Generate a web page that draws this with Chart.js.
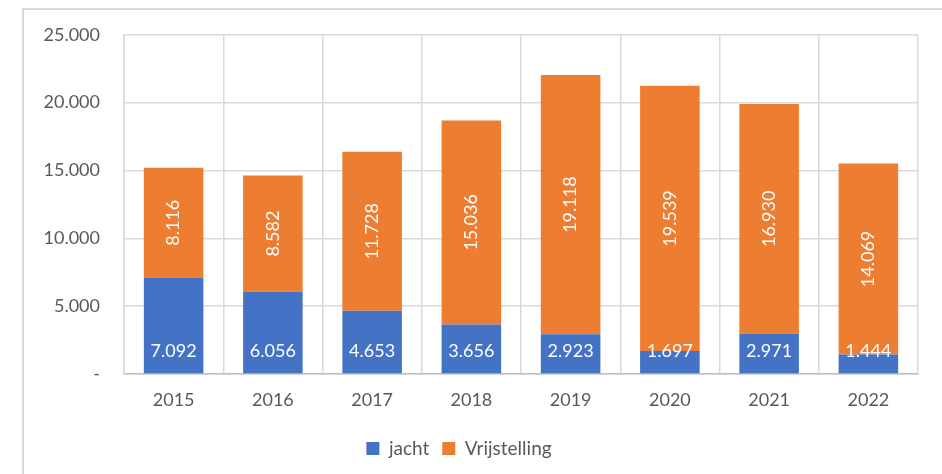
<!DOCTYPE html>
<html>
<head>
<meta charset="utf-8">
<script src="https://cdn.jsdelivr.net/npm/chart.js@4"></script>
<style>
  body { margin: 0; background: #fff; }
  #wrap { position: relative; width: 942px; height: 474px; overflow: hidden; }
  #frame { position: absolute; left: 22px; top: 8px; width: 940px; height: 480px; border: 2px solid #d9d9d9; box-sizing: border-box; }
  canvas { position: absolute; left: 0; top: 0; }
</style>
</head>
<body>
<div id="wrap">
  <div id="frame"></div>
  <canvas id="myChart" width="942" height="474"></canvas>
</div>
<script>
const years = ['2015', '2016', '2017', '2018', '2019', '2020', '2021', '2022'];
const jacht = [7092, 6056, 4653, 3656, 2923, 1697, 2971, 1444];
const vrijstelling = [8116, 8582, 11728, 15036, 19118, 19539, 16930, 14069];
const yTicks = [0, 5000, 10000, 15000, 20000, 25000];

// Dutch number format: 15000 -> 15.000
function fmt(v) {
    return String(v).replace(/\B(?=(\d{3})+(?!\d))/g, '.');
}

// draw the white value labels inside the bars
const barLabels = {
    id: 'barLabels',
    afterDatasetsDraw(chart) {
        const ctx = chart.ctx;
        ctx.save();
        ctx.fillStyle = '#ffffff';
        ctx.font = '18px Lato';
        chart.data.datasets.forEach((ds, i) => {
            const meta = chart.getDatasetMeta(i);
            meta.data.forEach((bar, j) => {
                const text = fmt(ds.data[j]);
                if (i === 0) {
                    ctx.textAlign = 'center';
                    ctx.textBaseline = 'middle';
                    ctx.fillText(text, bar.x, bar.base - 22);
                } else {
                    ctx.save();
                    ctx.translate(bar.x, (bar.y + bar.base) / 2);
                    ctx.rotate(-Math.PI / 2);
                    ctx.textAlign = 'center';
                    ctx.textBaseline = 'middle';
                    ctx.fillText(text, 0, 0);
                    ctx.restore();
                }
            });
        });
        ctx.restore();
    }
};

const ctx = document.getElementById('myChart').getContext('2d');
const myChart = new Chart(ctx, {
    type: 'bar',
    data: {
        labels: years,
        datasets: [{
            label: 'jacht',
            data: jacht,
            backgroundColor: '#4472C4',
            barPercentage: 0.6,
            categoryPercentage: 1
        }, {
            label: 'Vrijstelling',
            data: vrijstelling,
            backgroundColor: '#ED7D31',
            barPercentage: 0.6,
            categoryPercentage: 1
        }]
    },
    options: {
        responsive: false,
        animation: false,
        layout: { padding: { left: 0, right: 24, top: 34, bottom: 6 } },
        plugins: {
            legend: {
                position: 'bottom',
                labels: {
                    boxWidth: 13,
                    boxHeight: 13,
                    color: '#595959',
                    font: { family: 'Lato', size: 19 },
                    padding: 13
                }
            },
            tooltip: { enabled: false }
        },
        scales: {
            x: {
                stacked: true,
                grid: { color: '#d9d9d9', lineWidth: 1.5, drawTicks: false },
                border: { color: '#bfbfbf', width: 1.5 },
                ticks: { color: '#595959', font: { family: 'Lato', size: 18 }, padding: 15 },
                afterFit(axis) { axis.height = 52; }
            },
            y: {
                stacked: true,
                min: 0,
                max: 25000,
                afterBuildTicks(axis) { axis.ticks = yTicks.map(v => ({ value: v })); },
                grid: { color: '#d9d9d9', lineWidth: 1.5, drawTicks: false },
                border: { color: '#d9d9d9', width: 1.5 },
                ticks: {
                    color: '#595959',
                    font: { family: 'Lato', size: 18 },
                    padding: 24,
                    callback: v => v === 0 ? '-' : fmt(v)
                },
                afterFit(axis) { axis.width = 124; }
            }
        }
    },
    plugins: [barLabels]
});
</script>
</body>
</html>
